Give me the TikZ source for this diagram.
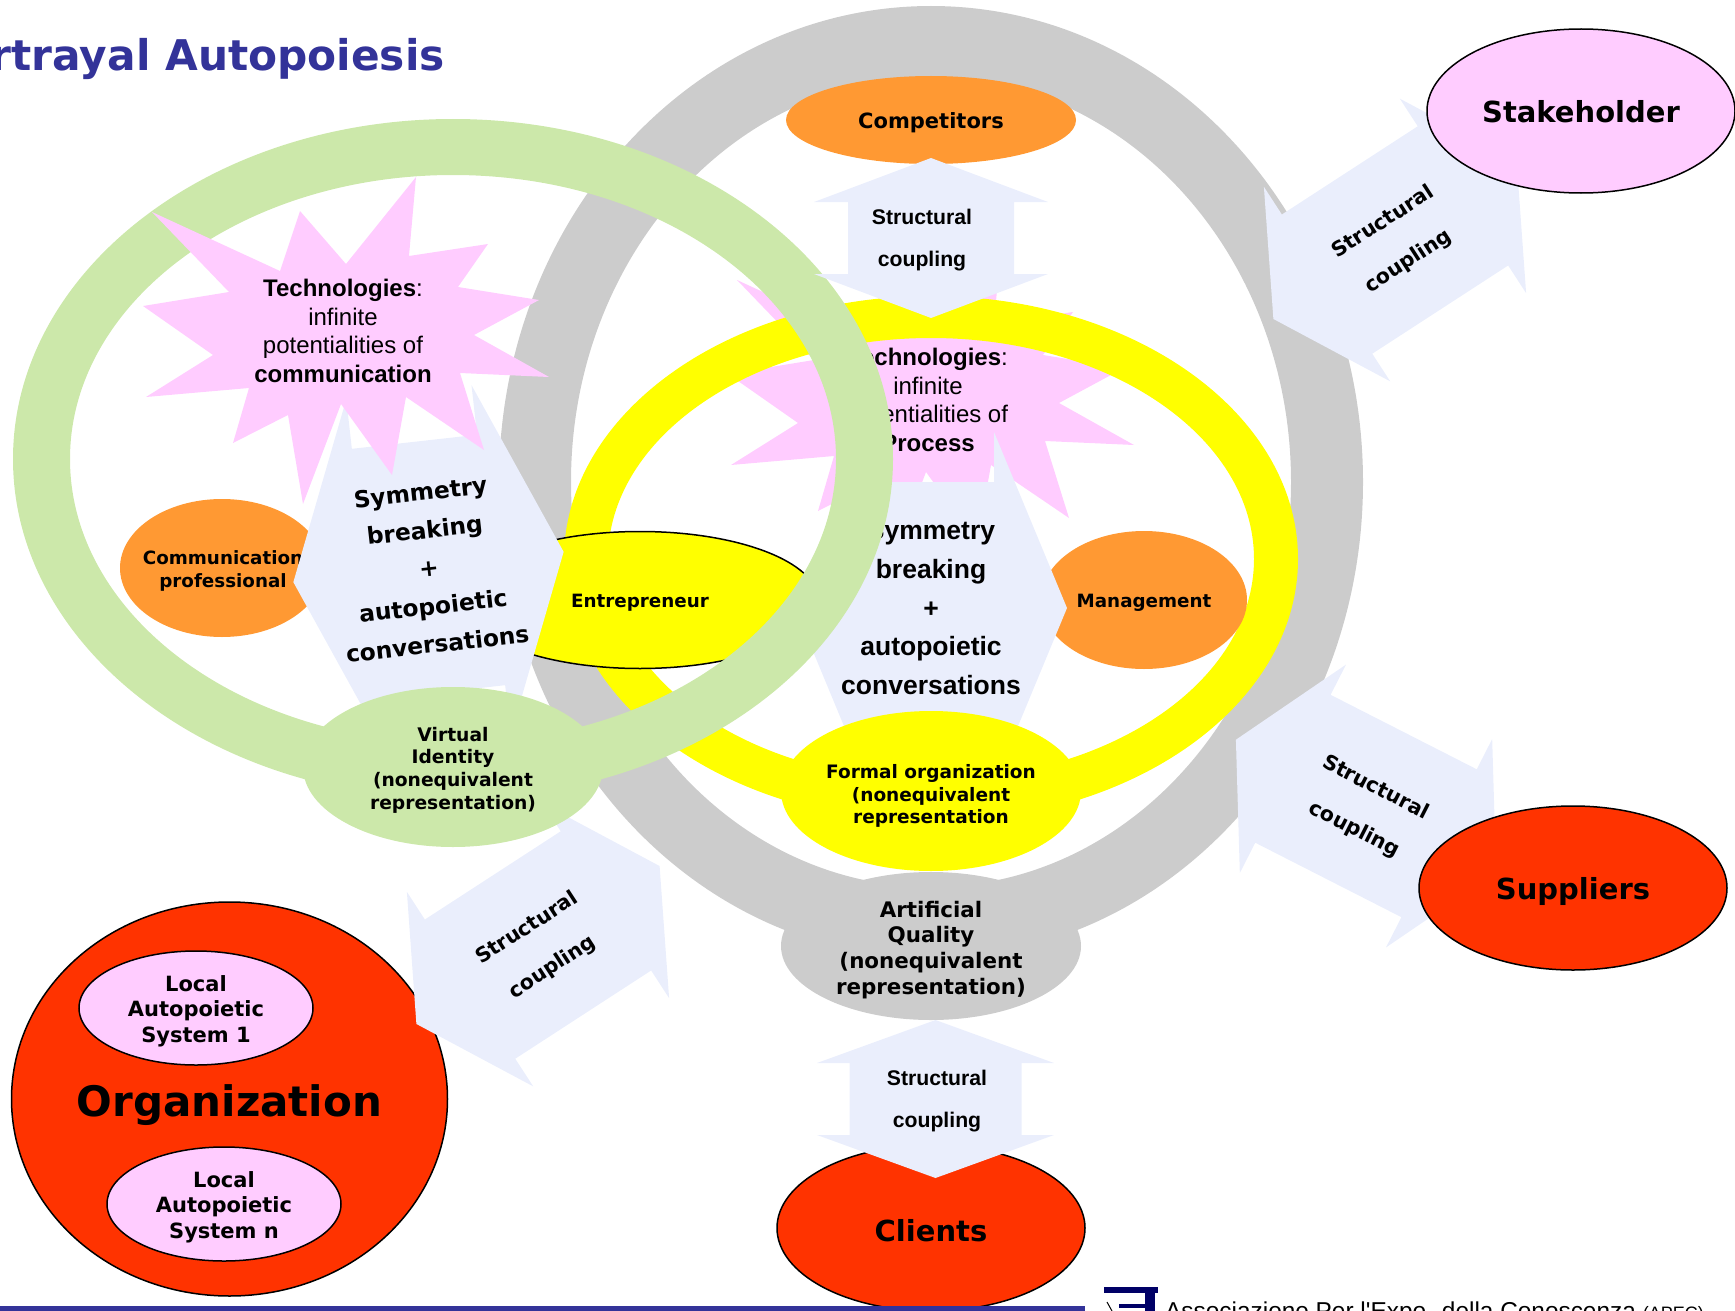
\documentclass[tikz,border=0pt]{standalone}
\usepackage{fontspec}
\setmainfont{Liberation Sans}
\newfontfamily\verd{DejaVu Sans}
\usetikzlibrary{shapes.geometric}
\definecolor{ringgray}{HTML}{CCCCCC}
\definecolor{ringgreen}{HTML}{CCE8AA}
\definecolor{ringyellow}{RGB}{255,255,0}
\definecolor{burstpink}{HTML}{FFCCFF}
\definecolor{blueish}{HTML}{EAEEFC}
\definecolor{orangeish}{HTML}{FF9933}
\definecolor{redish}{HTML}{FF3300}
\definecolor{titleblue}{HTML}{333399}
\definecolor{logonavy}{HTML}{000066}
\tikzset{
  blob/.style={ellipse, inner sep=0pt},
  lined/.style={blob, draw=black, line width=1.5pt},
  vtxt/.style={font=\verd\bfseries\fontsize{#1}{\dimexpr#1pt*121/100\relax}\selectfont, align=center, inner sep=0pt},
  atxt/.style={font=\fontsize{#1}{\dimexpr#1pt*120/100\relax}\selectfont, align=center, inner sep=0pt},
  pics/twoway/.style n args={4}{code={
    \fill[blueish] (-#1,0) -- (-#1+#2,#3) -- (-#1+#2,#4) -- (#1-#2,#4) -- (#1-#2,#3) -- (#1,0)
      -- (#1-#2,-#3) -- (#1-#2,-#4) -- (-#1+#2,-#4) -- (-#1+#2,-#3) -- cycle;
  }}
}
\newcommand{\burst}{(416,177) -- (409,256) -- (488,244) -- (458,287) -- (539,300) -- (474,335)
  -- (549,377) -- (460,373) -- (484,450) -- (406,397) -- (392,475) -- (341,404) -- (303,504)
  -- (288,415) -- (233,443) -- (249,388) -- (146,397) -- (213,355) -- (143,306) -- (229,292)
  -- (152,212) -- (280,271) -- (300,211) -- (346,264) -- cycle}
\begin{document}
\begin{tikzpicture}[x=1pt,y=-1pt]
\useasboundingbox (0,0) rectangle (1735,1311);

% grey ring and what sits on it
\fill[ringgray, even odd rule] (931,482) ellipse [x radius=432, y radius=476]
  (931,482) ellipse [x radius=360, y radius=405];
\node (artificial) [blob, fill=ringgray, minimum width=300, minimum height=148] at (931,946) {};
\node (artificialtxt) [vtxt={21.4}] at (931,950) {Artificial\\Quality\\(nonequivalent\\representation)};
\node (competitors) [blob, fill=orangeish, minimum width=290, minimum height=88] at (931,120) {};
\node (competitorstxt) [vtxt={21}] at (931,123) {Competitors};

% process burst under the yellow ring
\fill[burstpink, shift={(585,68)}] \burst;
\node (processtxt) [atxt={24}] at (928,400) {\textbf{Technologies}:\\infinite\\potentialities of\\\textbf{Process}};
\fill[ringyellow, even odd rule] (931,559) ellipse [x radius=367, y radius=263]
  (931,559) ellipse [x radius=323, y radius=221];

\node (management) [blob, fill=orangeish, minimum width=206, minimum height=138] at (1144,600) {};
\node (managementtxt) [vtxt={18.3}] at (1144,603) {Management};
\node (entrepreneur) [lined, fill=ringyellow, minimum width=356, minimum height=137] at (640,600) {};
\node (entrepreneurtxt) [vtxt={18.3}] at (640,603) {Entrepreneur};
\node (commpro) [blob, fill=orangeish, minimum width=204, minimum height=138] at (222,568) {};
\node (commtxt) [vtxt={18.3}] at (223,571) {Communication\\[0pt]professional};

% big arrows in the middle
\pic (selfC) at (931,608) {twoway={136}{73}{176}{126}};
\node (symtxtC) [atxt={26.5}] at (931,608) {\bfseries Symmetry\\[7pt]\bfseries breaking\\[7pt]\bfseries +\\[7pt]\bfseries autopoietic\\[7pt]\bfseries conversations};
\node (formal) [blob, fill=ringyellow, minimum width=300, minimum height=160] at (931,791) {};
\node (formaltxt) [vtxt={18.5}] at (931,796) {Formal organization\\(nonequivalent\\representation};
\pic (selfL) [rotate=6.4] at (428.5,567) {twoway={136}{73}{176}{126}};
\node (symtxtL) [vtxt={23.3}, rotate=6.4] at (429,568) {Symmetry\\[10pt]breaking\\[10pt]+\\[10pt]autopoietic\\[10pt]conversations};

% organization on the lower left
\node (organization) [lined, fill=redish, minimum width=436, minimum height=394] at (229.5,1099) {};
\node (organizationtxt) [vtxt={42}] at (229.5,1105) {Organization};
\node (localone) [lined, fill=burstpink, minimum width=234, minimum height=114] at (196,1008) {};
\node (localonetxt) [vtxt={21}] at (196,1011) {Local\\Autopoietic\\System 1};
\node (localn) [lined, fill=burstpink, minimum width=234, minimum height=114] at (224,1204) {};
\node (localntxt) [vtxt={21}] at (224,1207) {Local\\Autopoietic\\System n};

\pic (coupleO) [rotate=33] at (538,945) {twoway={145}{64}{116}{83}};
\node (coupletxtO) [vtxt={20.5}, rotate=33] at (540,948) {Structural\\[22pt]coupling};

% green ring
\fill[ringgreen, even odd rule] (453,459) ellipse [x radius=440, y radius=340]
  (453,459) ellipse [x radius=383, y radius=284];
\node (virtual) [blob, fill=ringgreen, minimum width=300, minimum height=160] at (453,767) {};
\node (virtualtxt) [vtxt={18.7}] at (453,770) {Virtual\\Identity\\(nonequivalent\\representation)};
\fill[burstpink] \burst;
\node (commburst) [atxt={24}] at (343,331) {\textbf{Technologies}:\\infinite\\potentialities of\\\textbf{communication}};

% structural coupling arrows and their partners
\pic (coupleT) [rotate=90] at (931,238) {twoway={80}{44}{117}{83}};
\node (coupletxtT) [atxt={21.2}] at (922,240) {\textbf{Structural}\\[16pt]\textbf{coupling}};

\pic (coupleS) [rotate=33] at (1395,240) {twoway={145}{64}{116}{83}};
\node (coupletxtS) [vtxt={20.5}, rotate=33] at (1396,242) {Structural\\[22pt]coupling};
\node (stakeholder) [lined, fill=burstpink, minimum width=308, minimum height=164] at (1581,111) {};
\node (stakeholdertxt) [vtxt={29}] at (1581,112) {Stakeholder};

\pic (coupleP) [rotate=-27] at (1366,806) {twoway={146}{64}{117}{83}};
\node (coupletxtP) [vtxt={20.5}, rotate=-27] at (1365,809) {Structural\\[22pt]coupling};
\node (suppliers) [lined, fill=redish, minimum width=308, minimum height=164] at (1573,888) {};
\node (supplierstxt) [vtxt={29}] at (1573,891) {Suppliers};

\node (clients) [lined, fill=redish, minimum width=308, minimum height=166] at (931,1228) {};
\node (clientstxt) [vtxt={29}] at (931,1231) {Clients};
\pic (coupleC) [rotate=90] at (935.5,1099) {twoway={79}{43}{118.5}{86}};
\node (coupletxtC) [atxt={21.2}] at (937,1101) {\textbf{Structural}\\[16pt]\textbf{coupling}};

% footer
\fill[titleblue] (0,1306) rectangle (1085,1311);
\fill[logonavy] (1104,1287) rectangle (1158,1293);
\fill[logonavy] (1145,1293) rectangle (1155,1311);
\fill[logonavy] (1119,1304) rectangle (1145,1308);
\draw[black, line width=1pt] (1107,1302) -- (1112,1311);
\node (apec) [anchor=base west, inner sep=0pt, font=\fontsize{24.4}{28}\selectfont] at (1165,1319.5)
  {Associazione Per l\textquotesingle Expo. della Conoscenza {\fontsize{18}{20}\selectfont(APEC)}};
\node (title) [anchor=base east, inner sep=0pt, text=titleblue, font=\verd\bfseries\fontsize{42.3}{50}\selectfont] at (445,71) {rtrayal Autopoiesis};
\end{tikzpicture}
\end{document}
